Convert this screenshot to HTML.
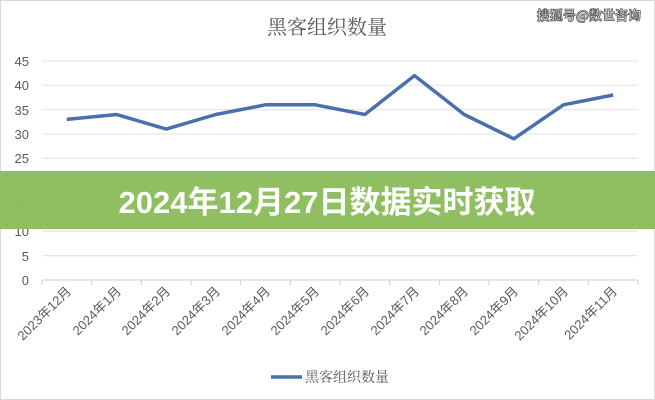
<!DOCTYPE html>
<html><head><meta charset="utf-8"><style>
body{margin:0;width:655px;height:400px;overflow:hidden;background:#fff;font-family:"Liberation Sans","Noto Sans CJK SC",sans-serif}
</style></head><body>
<svg width="655" height="400" xmlns="http://www.w3.org/2000/svg" style="position:absolute;left:0;top:0">
<rect x="0.5" y="0.5" width="654" height="399" fill="#fff" stroke="#d9d9d9"/>
<text x="327" y="34" text-anchor="middle" font-size="20" fill="#595959" font-family="Noto Serif CJK SC, Noto Sans CJK SC, sans-serif">黑客组织数量</text>
<text x="641" y="20" text-anchor="end" font-size="13" font-weight="bold" fill="#eee" stroke="#555" stroke-width="0.8" font-family="Noto Sans CJK SC, sans-serif">搜狐号@数世咨询</text>
<g stroke="#e0e0e0" stroke-width="1">
<line x1="42" x2="638" y1="61" y2="61"/><line x1="42" x2="638" y1="85.3" y2="85.3"/><line x1="42" x2="638" y1="109.7" y2="109.7"/><line x1="42" x2="638" y1="134" y2="134"/><line x1="42" x2="638" y1="158.3" y2="158.3"/><line x1="42" x2="638" y1="182.7" y2="182.7"/><line x1="42" x2="638" y1="207" y2="207"/><line x1="42" x2="638" y1="231.3" y2="231.3"/><line x1="42" x2="638" y1="255.7" y2="255.7"/>
</g>
<line x1="42" x2="638" y1="280" y2="280" stroke="#cfcfcf"/>
<g stroke="#cfcfcf">
<line x1="42" x2="42" y1="280" y2="285"/><line x1="91.7" x2="91.7" y1="280" y2="285"/><line x1="141.3" x2="141.3" y1="280" y2="285"/><line x1="191" x2="191" y1="280" y2="285"/><line x1="240.7" x2="240.7" y1="280" y2="285"/><line x1="290.3" x2="290.3" y1="280" y2="285"/><line x1="340" x2="340" y1="280" y2="285"/><line x1="389.7" x2="389.7" y1="280" y2="285"/><line x1="439.3" x2="439.3" y1="280" y2="285"/><line x1="489" x2="489" y1="280" y2="285"/><line x1="538.7" x2="538.7" y1="280" y2="285"/><line x1="588.3" x2="588.3" y1="280" y2="285"/><line x1="638" x2="638" y1="280" y2="285"/>
</g>
<g font-size="13" fill="#595959" text-anchor="end">
<text x="29" y="66">45</text><text x="29" y="90">40</text><text x="29" y="115">35</text><text x="29" y="139">30</text><text x="29" y="163">25</text><text x="29" y="188">20</text><text x="29" y="212">15</text><text x="29" y="236">10</text><text x="29" y="261">5</text><text x="29" y="285">0</text>
</g>
<polyline fill="none" stroke="#4a6fae" stroke-width="3.5" stroke-linejoin="round" points="66.8,119.4 116.5,114.5 166.2,129.1 215.8,114.5 265.5,104.8 315.2,104.8 364.8,114.5 414.5,75.6 464.2,114.5 513.8,138.8 563.5,104.8 613.2,95"/>
<g font-size="13" fill="#595959" text-anchor="end">
<text transform="translate(72,292) rotate(-45)">2023年12月</text>
<text transform="translate(122,292) rotate(-45)">2024年1月</text>
<text transform="translate(171,292) rotate(-45)">2024年2月</text>
<text transform="translate(221,292) rotate(-45)">2024年3月</text>
<text transform="translate(271,292) rotate(-45)">2024年4月</text>
<text transform="translate(320,292) rotate(-45)">2024年5月</text>
<text transform="translate(370,292) rotate(-45)">2024年6月</text>
<text transform="translate(420,292) rotate(-45)">2024年7月</text>
<text transform="translate(469,292) rotate(-45)">2024年8月</text>
<text transform="translate(519,292) rotate(-45)">2024年9月</text>
<text transform="translate(569,292) rotate(-45)">2024年10月</text>
<text transform="translate(618,292) rotate(-45)">2024年11月</text>
</g>
<line x1="271" x2="302" y1="377" y2="377" stroke="#4a6fae" stroke-width="3.5"/>
<text x="305" y="382" font-size="14" fill="#595959" font-family="Noto Serif CJK SC, Noto Sans CJK SC, sans-serif">黑客组织数量</text>
<rect x="0" y="171" width="655" height="58" fill="#8bbd5c" opacity="0.97"/>
<text x="327" y="213" text-anchor="middle" font-size="31" font-weight="bold" fill="#fff" font-family="Liberation Sans, Noto Sans CJK SC, sans-serif">2024年12月27日数据实时获取</text>
</svg>
</body></html>
